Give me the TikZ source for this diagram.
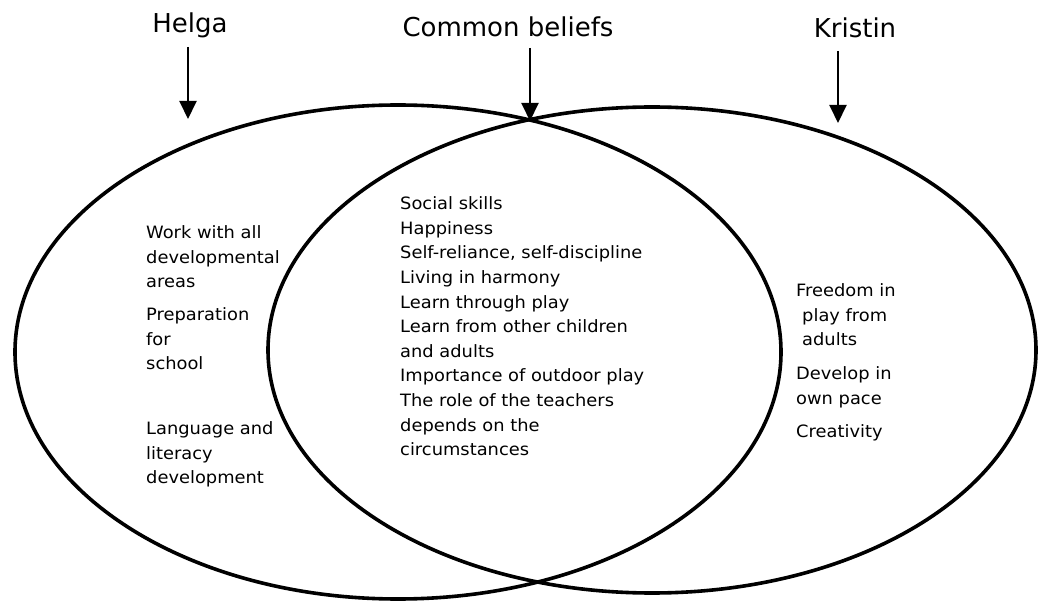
\documentclass[tikz,border=0pt]{standalone}
\usepackage{fontspec}
\setmainfont{DejaVu Sans}
\newfontfamily\bodyfont[FakeStretch=1.05]{DejaVu Sans}
\usetikzlibrary{arrows.meta}
\begin{document}
\begin{tikzpicture}[x=1pt,y=-1pt,
  ring/.style={line width=3.6pt},
  pointer/.style={line width=2pt,-{Triangle[width=17pt,length=18pt]}},
  title/.style={anchor=base,inner sep=0pt,font=\fontsize{26}{30}\selectfont},
  body/.style={anchor=north west,inner sep=0pt,align=left,
    font=\bodyfont\fontsize{17}{24.6}\selectfont}]
  \useasboundingbox (0,0) rectangle (1039,601);

  % the two overlapping sets
  \draw[ring] (398,352) ellipse [x radius=383pt, y radius=247pt];
  \draw[ring] (652,350) ellipse [x radius=384pt, y radius=243pt];

  % headings
  \node[title] (helga) at (190,33) {Helga};
  \node[title] (common) at (508,37) {Common beliefs};
  \node[title] (kristin) at (855,38) {Kristin};

  % arrow ends
  \coordinate (hS) at (188,47);  \coordinate (hE) at (188,119);
  \coordinate (cS) at (530,48);  \coordinate (cE) at (530,121);
  \coordinate (kS) at (838,51);  \coordinate (kE) at (838,123);
  \draw[pointer] (hS) -- (hE);
  \draw[pointer] (cS) -- (cE);
  \draw[pointer] (kS) -- (kE);

  % Helga only (top edge = first baseline minus about 12.5pt)
  \node[body] (h1) at (146,225.5) {Work with all\\developmental\\areas};
  \node[body] (h2) at (146,307.5) {Preparation\\for\\school};
  \node[body] (h3) at (146,421.5) {Language and\\literacy\\development};

  % shared
  \node[body] (c1) at (400,196.5) {Social skills\\Happiness\\Self-reliance, self-discipline\\Living in harmony\\Learn through play\\Learn from other children\\and adults\\Importance of outdoor play\\The role of the teachers\\depends on the\\circumstances};

  % Kristin only
  \node[body] (k1) at (796,283.5) {Freedom in\\\hspace*{6pt}play from\\\hspace*{6pt}adults};
  \node[body] (k2) at (796,366.5) {Develop in\\own pace};
  \node[body] (k3) at (796,424.5) {Creativity};
\end{tikzpicture}
\end{document}
